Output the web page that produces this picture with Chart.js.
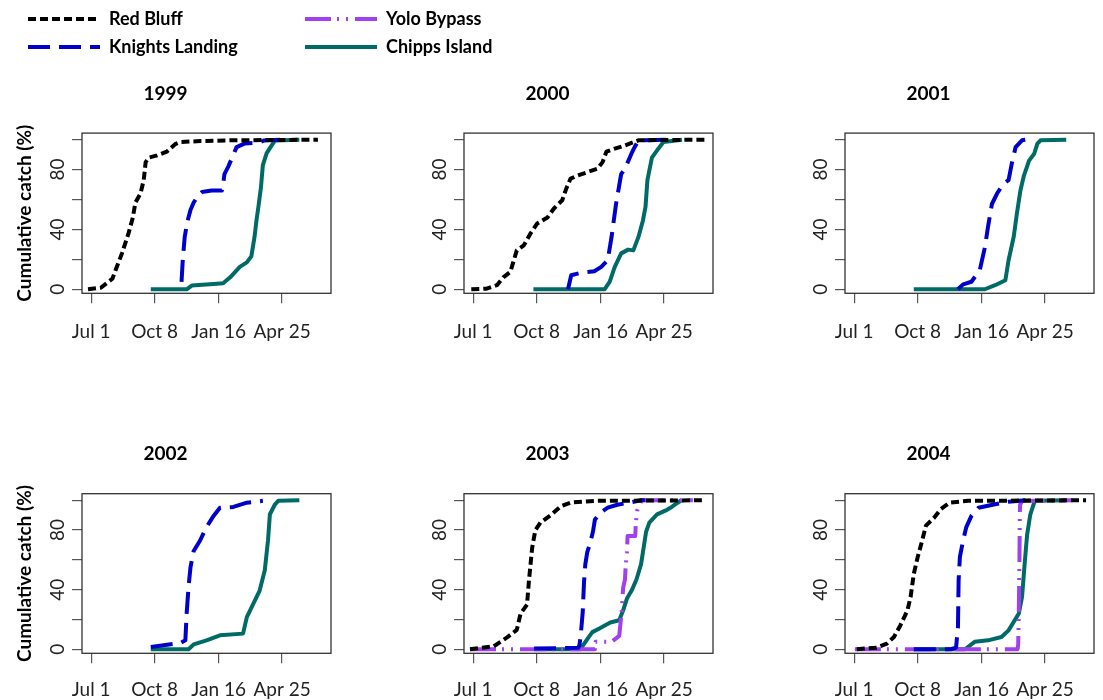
<!DOCTYPE html>
<html>
<head>
<meta charset="utf-8">
<script src="https://cdn.jsdelivr.net/npm/chart.js@4.4.1/dist/chart.umd.min.js"></script>
<style>
  body { margin: 0; background: #fff; }
  #wrap { position: relative; width: 1103px; height: 700px; overflow: hidden; }
  #wrap canvas { position: absolute; }
</style>
</head>
<body>
<div id="wrap"></div>
<script>
// x values are days after Jul 1, y values are cumulative catch (%)
const years = ['1999', '2000', '2001', '2002', '2003', '2004'];
const dateTicks = [0, 99, 199, 298];
const dateLabels = ['Jul 1', 'Oct 8', 'Jan 16', 'Apr 25'];
const pctTicks = [0, 20, 40, 60, 80, 100];
const pctLabels = [0, 40, 80];

const redBluff1999 = [[-5,0],[15,1],[33,7],[40,15],[48,24],[58,37],[65,48],[69,58],[77,64],[82,73],[85,85],[90,88],[103,89.5],[118,92],[131,97],[139,98.4],[170,99.1],[222,99.6],[354,100]];
const knights1999 = [[141,5],[143,20],[146,35],[150,45],[155,53],[160,58],[166,62],[173,65],[188,66],[204,66],[206,70],[208,77],[214,82],[220,88],[227,95],[240,97.5],[262,98],[270,99.5],[295,100]];
const chipps1999 = [[93,0],[149,0],[157,2.5],[191,3.5],[206,4],[217,8],[232,15],[243,18],[250,22],[255,35],[258,46],[261,55],[265,68],[268,83],[274,91],[280,95],[287,99.5],[325,100]];

const redBluff2000 = [[-3,0],[21,0.4],[37,2.7],[47,8],[58,11.6],[68,26],[79,29.4],[89,37],[100,44],[116,48],[126,54],[139,59.5],[145,67],[152,74],[163,76],[179,78.4],[194,80.6],[202,85],[208,92],[221,94],[236,96],[258,99.6],[363,100]];
const knights2000 = [[148,0],[153,9.4],[168,11],[189,12],[200,15],[210,19.4],[216,35],[223,57],[231,77],[237,80.6],[247,90.6],[252,95],[258,99.6],[305,100]];
const chipps2000 = [[94,0],[205,0],[213,5],[221,15],[231,24],[242,26.5],[250,26],[258,35],[265,46],[269,55],[272,73],[279,88],[289,94],[297,98.4],[326,100]];

const knights2001 = [[162,0],[170,3.3],[183,5],[196,12.7],[204,28],[209,42],[215,57],[223,64],[233,70.6],[241,73],[246,84],[252,95],[262,99.6],[267,100]];
const chipps2001 = [[93,0],[204,0],[220,2.7],[236,6],[241,19.4],[249,35],[254,50.6],[259.5,66],[265,76],[273,86],[281,90.6],[286,97.3],[291,99.6],[331,100]];

const knights2002 = [[93,1.6],[113,2.7],[139,4.2],[147,6],[149,24],[152,42],[155,55],[160,66],[170,73],[180,82],[191,89.5],[201,95],[222,95.5],[243,98.4],[268,99.6]];
const chipps2002 = [[93,0],[152,0],[160,3.3],[180,6],[201,9.4],[237,10.5],[243,21.6],[253,30.5],[263,39.4],[271,53],[276,73],[279,90.6],[287,97.3],[292,99.6],[325,100]];

const redBluff2003 = [[-5,0],[32,2],[53,8],[68,13],[74,24],[84,30],[87,46],[92,68],[97,80],[105,85],[121,90],[137,96],[153,98.5],[190,99.6],[363,100]];
const yolo2003 = [[-5,0],[190,0],[191,5],[216,5],[228,9],[232,26],[234,41],[237,47],[238,56],[240,65],[241,76],[253,76],[254,85],[256,93],[263,100],[343,100]];
const knights2003 = [[95,0.5],[164,1],[166,3],[168,10],[171,25],[173,45],[175,57],[178,65],[183,72],[187,79],[190,87],[200,92],[210,95],[225,97],[245,98.5],[262,100],[268,100]];
const chipps2003 = [[95,0],[168,0],[172,3],[180,8],[186,11.5],[197,14],[214,18],[228,19.5],[234,26],[240,34],[248,40],[255,47],[262,57],[266,68],[270,79],[275,85],[287,90.5],[300,93],[310,95.5],[318,98],[325,100]];

const redBluff2004 = [[4,0],[35,1.1],[51,3.8],[62,8.2],[72,16],[83,26],[88,35],[93,50.6],[99,61.7],[106,72.8],[112,83],[125,88.4],[135,94],[149,98.4],[178,99.6],[362,100]];
const yolo2004 = [[1,0],[255,0],[256,3],[257,25],[258,60],[258.5,90],[259,97],[262,99.5],[341,100]];
const knights2004 = [[93,0],[151,0],[159,1.1],[162,15],[163,46],[165,62],[170,73],[175,82],[183,89.5],[194,95],[220,97.3],[241,99],[267,100]];
const chipps2004 = [[93,0],[173,0],[188,5],[209,6],[230,8.2],[241,12.7],[257,24],[262,35],[267,62],[270,77],[275,90.6],[281,98.4],[283,99.6],[331,100]];

const series = {
    red:     { label: 'Red Bluff',       color: '#000000', dash: [8, 4] },
    knights: { label: 'Knights Landing', color: '#0000CD', dash: [22, 9] },
    yolo:    { label: 'Yolo Bypass',     color: '#A040F0', dash: [26, 6, 2, 7, 2, 7] },
    chipps:  { label: 'Chipps Island',   color: '#006B66', dash: [] }
};

const panelData = [
    { red: redBluff1999, knights: knights1999, chipps: chipps1999 },
    { red: redBluff2000, knights: knights2000, chipps: chipps2000 },
    { knights: knights2001, chipps: chipps2001 },
    { knights: knights2002, chipps: chipps2002 },
    { red: redBluff2003, knights: knights2003, yolo: yolo2003, chipps: chipps2003 },
    { red: redBluff2004, knights: knights2004, yolo: yolo2004, chipps: chipps2004 }
];

Chart.defaults.font.family = 'Lato, "Open Sans", sans-serif';
Chart.defaults.color = '#000';

const wrap = document.getElementById('wrap');

function addCanvas(left, top, w, h) {
    const c = document.createElement('canvas');
    c.width = w;
    c.height = h;
    c.style.left = left + 'px';
    c.style.top = top + 'px';
    c.style.width = w + 'px';
    c.style.height = h + 'px';
    wrap.appendChild(c);
    return c;
}

function makeDataset(key, points) {
    const s = series[key];
    return {
        label: s.label,
        data: points.map(p => ({ x: p[0], y: p[1] })),
        borderColor: s.color,
        backgroundColor: s.color,
        borderWidth: 4,
        borderDash: s.dash,
        borderCapStyle: 'butt',
        borderJoinStyle: 'round',
        pointRadius: 0,
        tension: 0,
        fill: false
    };
}

// box around the plotting region, like base R
const boxPlugin = {
    id: 'box',
    afterDraw(chart) {
        const a = chart.chartArea;
        const ctx = chart.ctx;
        ctx.save();
        ctx.strokeStyle = '#333';
        ctx.lineWidth = 1.3;
        ctx.strokeRect(a.left, a.top, a.right - a.left, a.bottom - a.top);
        ctx.restore();
    }
};

years.forEach(function(year, i) {
    const col = i % 3;
    const row = Math.floor(i / 3);
    const top = row === 0 ? 70 : 430;
    const h = row === 0 ? 280 : 270;
    const xAxisH = row === 0 ? 56.7 : 46.7;
    const canvas = addCanvas([0, 382, 763][col], top, 340, h);

    const d = panelData[i];
    const datasets = ['red', 'knights', 'yolo', 'chipps']
        .filter(k => d[k])
        .map(k => makeDataset(k, d[k]));

    new Chart(canvas, {
        type: 'line',
        data: { datasets: datasets },
        options: {
            responsive: false,
            animation: false,
            events: [],
            layout: { padding: { left: 0, right: 9, top: 0, bottom: 0 } },
            plugins: {
                legend: { display: false },
                tooltip: { enabled: false },
                title: {
                    display: true,
                    text: year,
                    color: '#000',
                    font: { size: 19, weight: 'bold' },
                    padding: { top: row === 0 ? 12 : 12.6, bottom: 28.3 }
                }
            },
            scales: {
                x: {
                    type: 'linear',
                    min: -14.4,
                    max: 374.4,
                    afterBuildTicks: s => { s.ticks = dateTicks.map(v => ({ value: v })); },
                    afterFit: s => { s.height = xAxisH; },
                    ticks: {
                        autoSkip: false,
                        maxRotation: 0,
                        minRotation: 0,
                        padding: row === 0 ? 17.3 : 15.3,
                        color: '#222',
                        font: { size: 19 },
                        callback: (v, idx) => dateLabels[idx]
                    },
                    grid: { drawOnChartArea: false, drawTicks: true, tickLength: 10, color: '#555', lineWidth: 1.2 },
                    border: { display: false }
                },
                y: {
                    type: 'linear',
                    min: -2.7,
                    max: 104.4,
                    afterBuildTicks: s => { s.ticks = pctTicks.map(v => ({ value: v })); },
                    afterFit: s => { s.width = 82; },
                    ticks: {
                        autoSkip: false,
                        minRotation: 90,
                        maxRotation: 90,
                        crossAlign: 'center',
                        padding: 3,
                        color: '#222',
                        font: { size: 19 },
                        callback: v => pctLabels.includes(v) ? String(v) : ''
                    },
                    title: {
                        display: col === 0,
                        text: 'Cumulative catch (%)',
                        color: '#000',
                        font: { size: 19, weight: 'bold' },
                        padding: { top: 13.6, bottom: 0 }
                    },
                    grid: { drawOnChartArea: false, drawTicks: true, tickLength: 10, color: '#555', lineWidth: 1.2 },
                    border: { display: false }
                }
            }
        },
        plugins: [boxPlugin]
    });
});

// legend, two columns of two entries
function makeLegend(left, width, keys) {
    const canvas = addCanvas(left, 0, width, 160);
    new Chart(canvas, {
        type: 'line',
        data: { datasets: keys.map(k => makeDataset(k, [])) },
        options: {
            responsive: false,
            animation: false,
            events: [],
            scales: { x: { display: false }, y: { display: false } },
            plugins: {
                tooltip: { enabled: false },
                legend: {
                    position: 'top',
                    align: 'start',
                    maxHeight: 80,
                    labels: {
                        usePointStyle: true,
                        pointStyleWidth: 72,
                        padding: 10,
                        color: '#000',
                        font: { size: 18, weight: 'bold' },
                        generateLabels: chart => chart.data.datasets.map((ds, i) => ({
                            text: ds.label,
                            fillStyle: ds.borderColor,
                            strokeStyle: ds.borderColor,
                            lineWidth: ds.borderWidth,
                            lineDash: ds.borderDash,
                            lineCap: 'butt',
                            pointStyle: 'line',
                            fontColor: '#000',
                            hidden: false,
                            datasetIndex: i
                        }))
                    }
                }
            }
        }
    });
}

makeLegend(18, 270, ['red', 'knights']);
makeLegend(295, 300, ['yolo', 'chipps']);
</script>
</body>
</html>
